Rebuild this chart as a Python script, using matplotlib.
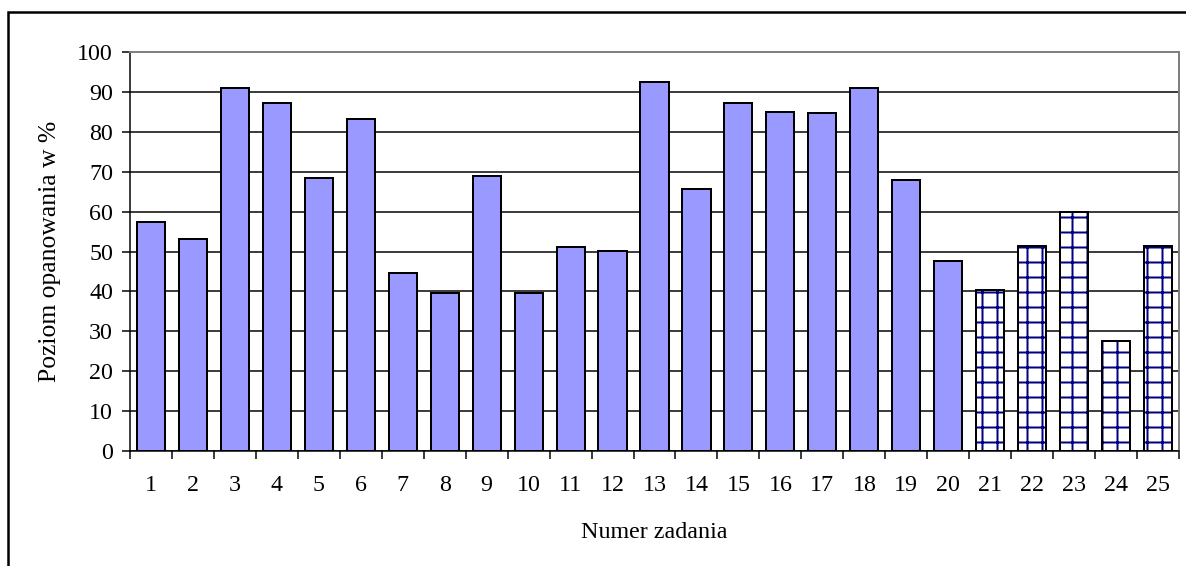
import matplotlib
matplotlib.use("Agg")
import matplotlib.pyplot as plt
from matplotlib.patches import Rectangle
from matplotlib.transforms import Bbox, TransformedBbox

# Data
tasks = [str(i) for i in range(1, 26)]
solid_values = [57.4, 53.1, 91.0, 87.2, 68.4, 83.2, 44.6, 39.6, 68.9, 39.6,
                51.1, 50.1, 92.5, 65.7, 87.2, 85.0, 84.7, 91.0, 67.9, 47.6]
hatched_values = [40.3, 51.3, 60.0, 27.5, 51.3]
values = solid_values + hatched_values
y_ticks = list(range(0, 101, 10))

DPI = 90
PX = 72 / DPI  # points per pixel
FS = 24 * PX   # text about 24 px em

plt.rcParams["font.family"] = ["Liberation Serif", "DejaVu Serif"]
plt.rcParams["hatch.linewidth"] = 2 * PX

W, H = 1186, 566
fig = plt.figure(figsize=(W / DPI, H / DPI), dpi=DPI)
ax = fig.add_axes([130 / W, 1 - 451 / H, (1179 - 130) / W, (451 - 52) / H])

n_solid = len(solid_values)
x = list(range(len(values)))
width = 0.67

# solid bars
ax.bar(x[:n_solid], solid_values, width=width, color="#9999FF",
       edgecolor="black", linewidth=2 * PX, zorder=3)
# hatched bars: hatch layer then black outline
ax.bar(x[n_solid:], hatched_values, width=width, color="white",
       edgecolor="#000080", hatch="+", linewidth=0, zorder=3)
ax.bar(x[n_solid:], hatched_values, width=width, color="none",
       edgecolor="black", linewidth=2 * PX, zorder=4)

ax.set_xlim(-0.5, len(values) - 0.5)
ax.set_ylim(0, 100)
ax.set_yticks(y_ticks)
ax.yaxis.grid(True, color="black", linewidth=1.5 * PX, zorder=0)
ax.set_axisbelow(True)

# category ticks between bars, labels centred
ax.set_xticks([i - 0.5 for i in range(len(values) + 1)])
ax.set_xticklabels([])
ax.set_xticks(x, minor=True)
ax.set_xticklabels(tasks, minor=True)
ax.tick_params(axis="x", which="major", direction="out", length=8 * PX, width=1.5 * PX)
ax.tick_params(axis="x", which="minor", length=0, pad=24 * PX, labelsize=FS)
ax.tick_params(axis="y", direction="out", length=8 * PX, width=1.5 * PX,
               labelsize=FS, pad=9 * PX)

for side in ["top", "right"]:
    ax.spines[side].set_color("#808080")
    ax.spines[side].set_linewidth(2 * PX)
for side in ["left", "bottom"]:
    ax.spines[side].set_color("black")
    ax.spines[side].set_linewidth(1.5 * PX)

ax.set_xlabel("Numer zadania", fontsize=FS)
ax.xaxis.set_label_coords(0.5, -(532 - 451) / (451 - 52), transform=ax.transAxes)
ax.xaxis.label.set_va("center")
ylab = ax.set_ylabel("Poziom opanowania w %", fontsize=FS * 1.07)
ax.yaxis.set_label_coords(-(130 - 50) / (1179 - 130), 0.5)
ylab.set_va("center")
ylab.set_clip_on(True)
ylab.set_clip_box(TransformedBbox(Bbox([[0, 0], [1, 1 - 121 / H]]), fig.transFigure))

# outer chart frame (cut by the image edge)
fig.patches.append(Rectangle((8 / W, -0.1), 2, 1 - 12 / H + 0.1,
                             transform=fig.transFigure, fill=False,
                             edgecolor="black", linewidth=2.5 * PX))

fig.savefig("out.png", dpi=DPI)
